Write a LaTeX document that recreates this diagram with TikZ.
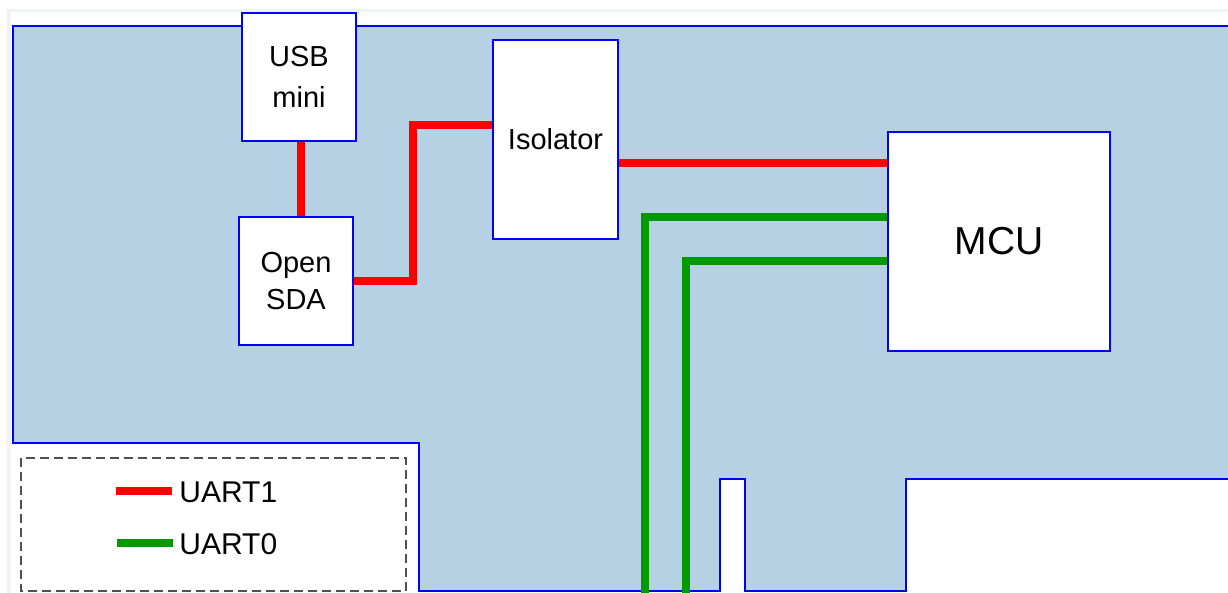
\documentclass[tikz,border=0pt]{standalone}
\usepackage{fontspec}
\setmainfont{Liberation Sans}
\pgfdeclarelayer{board}
\pgfdeclarelayer{wires}
\pgfsetlayers{board,wires,main}
\definecolor{boardfill}{HTML}{B5D1E3}
\definecolor{frameclr}{HTML}{EEF3F8}
\definecolor{uartred}{HTML}{FF0000}
\definecolor{uartgreen}{HTML}{009900}
\definecolor{edgeblue}{HTML}{0000FF}
\definecolor{leggray}{HTML}{505050}
\begin{document}
\begin{tikzpicture}[x=0.5pt,y=-0.5pt,
  box/.style={draw=edgeblue, line width=1.4pt, fill=white, align=center,
    font=\fontsize{14.5}{20}\selectfont, inner sep=0pt},
  bigtext/.style={font=\fontsize{19.5}{24}\selectfont},
  uart1/.style={draw=uartred, line width=4pt},
  uart0/.style={draw=uartgreen, line width=4pt},
  legendbox/.style={draw=leggray, line width=1pt, dash pattern=on 4.5pt off 2.5pt},
  legtext/.style={font=\fontsize{15}{18}\selectfont, inner sep=0pt, anchor=west},
  outline/.style={draw=edgeblue, line width=1.4pt, fill=boardfill}]
\useasboundingbox (0,0) rectangle (1228,593);
\clip (0,0) rectangle (1228,593);

\begin{pgfonlayer}{board}
  \fill[white] (0,0) rectangle (1228,593);
  \draw[frameclr, line width=1.75pt] (9,10.5) rectangle (1300,700);
  \draw[outline] (13,26) -- (1240,26) -- (1240,479) -- (906,479) -- (906,591)
    -- (745,591) -- (745,479) -- (720,479) -- (720,591) -- (419,591)
    -- (419,443) -- (13,443) -- cycle;
  \draw[legendbox] (21,458) rectangle (406,591);
\end{pgfonlayer}

% blocks
\node[box, minimum width=57pt, minimum height=64pt] (usb) at (299,77) {USB\\[0.5pt]mini};
\node[box, minimum width=57pt, minimum height=64pt, font=\fontsize{14.5}{18.5}\selectfont] (sda) at (296,281) {Open\\SDA};
\node[box, minimum width=62.5pt, minimum height=99.5pt] (iso) at (555.5,139.5) {Isolator};
\node[box, bigtext, minimum width=111pt, minimum height=109.5pt] (mcu) at (999,241.5) {MCU};

% routing helpers
\coordinate (r1x) at (301,0);
\coordinate (bend) at (413,125);
\coordinate (r3y) at (0,163);
\coordinate (g1y) at (0,217);
\coordinate (g2y) at (0,261);
\coordinate (g1end) at (645,600);
\coordinate (g2end) at (686,600);

\begin{pgfonlayer}{wires}
  \draw[uart1] (usb.south -| r1x) -- (sda.north -| r1x);
  \draw[uart1] (sda.east) -| (bend) -- (iso.west |- bend);
  \draw[uart1] (iso.east |- r3y) -- (mcu.west |- r3y);
  \draw[uart0] (mcu.west |- g1y) -| (g1end);
  \draw[uart0] (mcu.west |- g2y) -| (g2end);
\end{pgfonlayer}

% legend
\coordinate (l1a) at (116,491.5);
\coordinate (l1b) at (172,491.5);
\coordinate (l0a) at (117,543.5);
\coordinate (l0b) at (173,543.5);
\draw[uart1] (l1a) -- (l1b);
\draw[uart0] (l0a) -- (l0b);
\node[legtext] (l1t) at (179,492) {UART1};
\node[legtext] (l0t) at (179,544) {UART0};
\end{tikzpicture}
\end{document}
